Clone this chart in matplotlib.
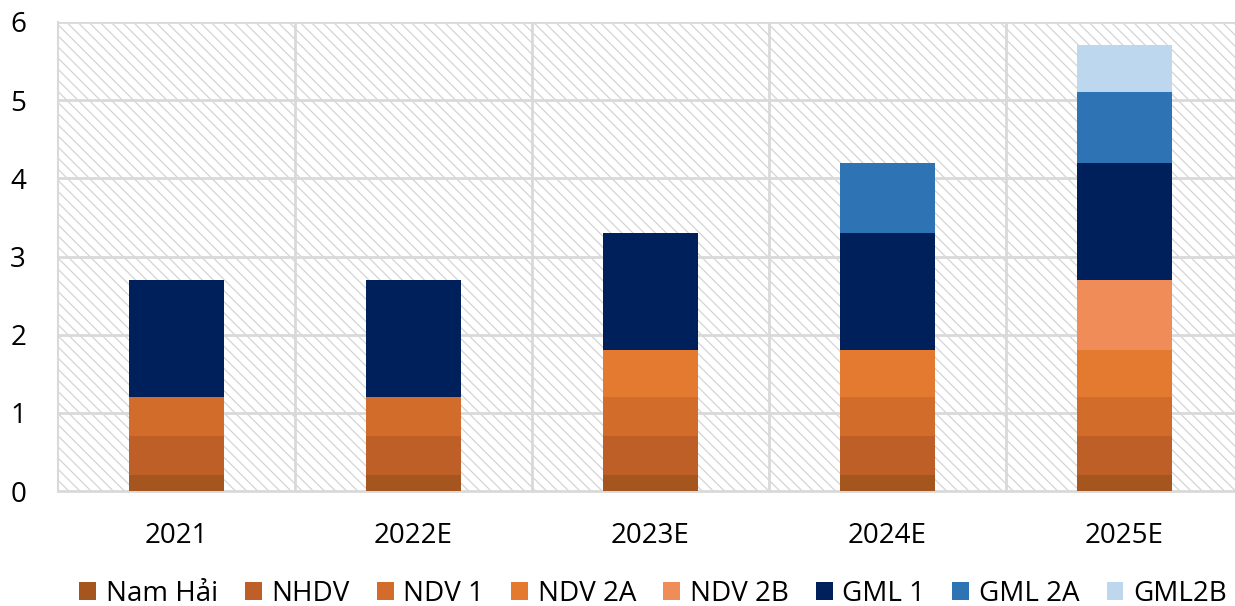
import matplotlib
matplotlib.use("Agg")
import matplotlib.pyplot as plt
from matplotlib.patches import Rectangle, Patch
import numpy as np

plt.rcParams["font.family"] = ["Open Sans", "DejaVu Sans"]
plt.rcParams["hatch.linewidth"] = 0.9

years = ["2021", "2022E", "2023E", "2024E", "2025E"]
series = ["Nam Hải", "NHDV", "NDV 1", "NDV 2A", "NDV 2B", "GML 1", "GML 2A", "GML2B"]
nam_hai = [0.2, 0.2, 0.2, 0.2, 0.2]
nhdv    = [0.5, 0.5, 0.5, 0.5, 0.5]
ndv1    = [0.5, 0.5, 0.5, 0.5, 0.5]
ndv2a   = [0.0, 0.0, 0.6, 0.6, 0.6]
ndv2b   = [0.0, 0.0, 0.0, 0.0, 0.9]
gml1    = [1.5, 1.5, 1.5, 1.5, 1.5]
gml2a   = [0.0, 0.0, 0.0, 0.9, 0.9]
gml2b   = [0.0, 0.0, 0.0, 0.0, 0.6]
values = [nam_hai, nhdv, ndv1, ndv2a, ndv2b, gml1, gml2a, gml2b]
colors = ["#A5561F", "#BD5F26", "#D26C2B", "#E47A30", "#EF8C58",
          "#00205C", "#2E74B5", "#BDD7EE"]

W, H = 1235, 606
fig = plt.figure(figsize=(W / 100, H / 100), dpi=100)
ax = fig.add_axes([58 / W, (H - 491) / H, 1185 / W, 469 / H])

# hatched background
ax.add_patch(Rectangle((0, 0), 1, 1, transform=ax.transAxes, facecolor="white",
                       edgecolor="#d4d4d4", hatch="\\\\\\", linewidth=0, zorder=0))

x = np.arange(len(years))
bottom = np.zeros(len(years))
for name, vals, col in zip(series, values, colors):
    v = np.array(vals)
    ax.bar(x, v, width=0.4, bottom=bottom, color=col, edgecolor="none", zorder=3)
    bottom += v

ax.set_xlim(-0.5, len(years) - 0.5)
ax.set_ylim(0, 6)
ax.set_yticks(range(0, 7))
ax.set_xticks(x)
ax.set_xticklabels(years)

# grid
for yv in range(1, 7):
    ax.axhline(yv, color="#d9d9d9", linewidth=2, zorder=1)
for xv in np.arange(0.5, len(years) - 0.5, 1.0):
    ax.axvline(xv, color="#d9d9d9", linewidth=2, zorder=1)

for s in ["top", "right"]:
    ax.spines[s].set_visible(False)
ax.spines["left"].set_color("#d9d9d9")
ax.spines["left"].set_linewidth(1.5)
ax.spines["bottom"].set_color("#d9d9d9")
ax.spines["bottom"].set_linewidth(2)
ax.tick_params(axis="both", length=0, labelsize=20, colors="black")
ax.tick_params(axis="y", pad=23)
ax.tick_params(axis="x", pad=22)

handles = [Patch(facecolor=c, edgecolor="none") for c in colors]
fig.legend(handles, series, loc="center", bbox_to_anchor=(653 / W, (H - 594) / H),
           ncol=8, frameon=False, fontsize=20, handlelength=0.6, handleheight=0.6,
           handletextpad=0.35, columnspacing=0.98, borderaxespad=0)

fig.savefig("out.png", dpi=100)
